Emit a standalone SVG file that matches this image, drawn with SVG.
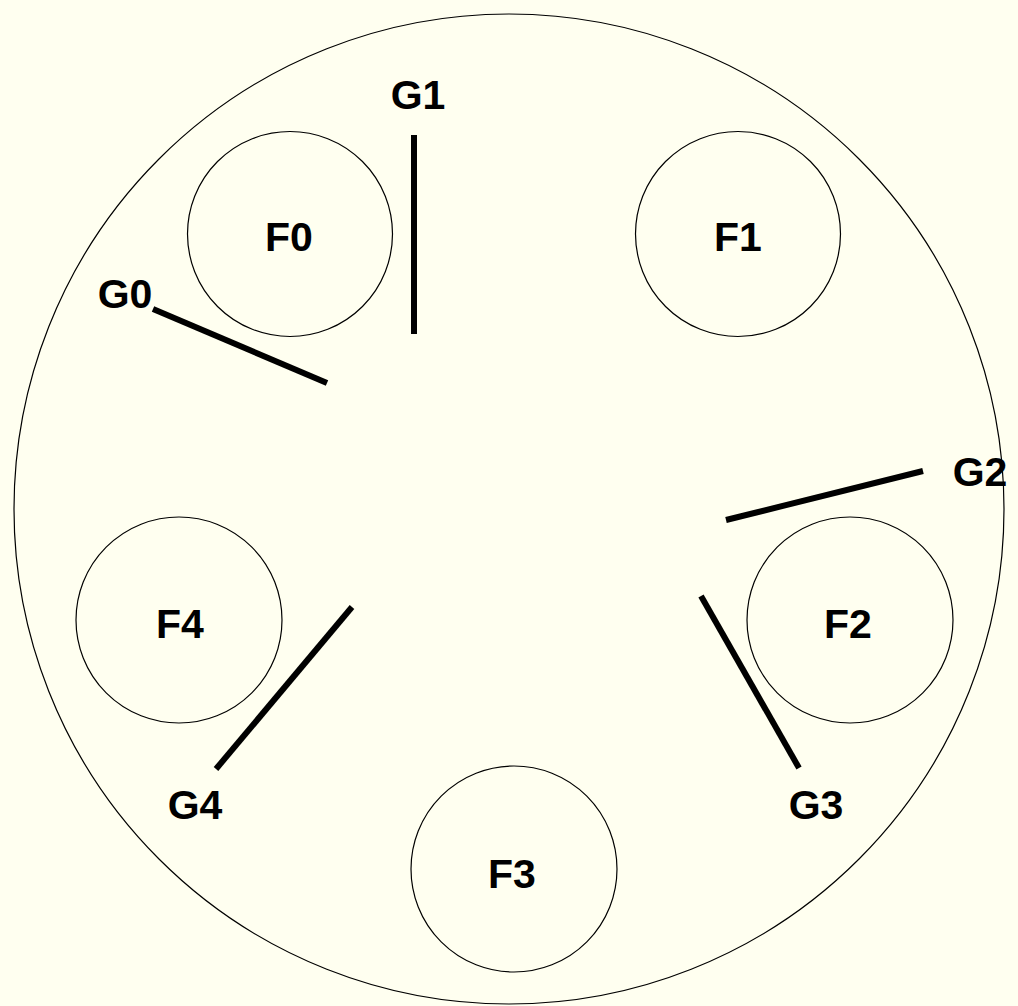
<svg xmlns="http://www.w3.org/2000/svg" width="1018" height="1006" viewBox="0 0 1018 1006">
<style>
.bg{fill:#FFFFF0}
.table{fill:#FFFFF0;stroke:#000;stroke-width:1.2}
.plate{fill:#FFFFF0;stroke:#000;stroke-width:1.2}
.fork{stroke:#000;stroke-width:6;fill:none}
.lbl{font-family:"Liberation Sans",Arial,sans-serif;font-weight:bold;font-size:41px;fill:#000;text-anchor:middle}
</style>
<rect class="bg" x="0" y="0" width="1018" height="1006"/>
<circle class="table" cx="509" cy="509" r="495"/>
<g id="F0"><circle class="plate" cx="290" cy="234" r="102.5"/><text class="lbl" x="289" y="251">F0</text></g>
<g id="F1"><circle class="plate" cx="738" cy="234" r="102.5"/><text class="lbl" x="738" y="251">F1</text></g>
<g id="F2"><circle class="plate" cx="850" cy="620" r="103"/><text class="lbl" x="848" y="638">F2</text></g>
<g id="F3"><circle class="plate" cx="514" cy="869" r="103"/><text class="lbl" x="512" y="888">F3</text></g>
<g id="F4"><circle class="plate" cx="179" cy="620" r="103"/><text class="lbl" x="180" y="638">F4</text></g>
<g id="connectors">
<line class="fork" x1="153" y1="309" x2="327" y2="383"/>
<line class="fork" x1="414" y1="135" x2="414" y2="334"/>
<line class="fork" x1="726" y1="520" x2="923" y2="471"/>
<line class="fork" x1="701" y1="596" x2="799" y2="768"/>
<line class="fork" x1="352" y1="607" x2="216" y2="769"/>
</g>
<g id="G0"><text class="lbl" x="125" y="308">G0</text></g>
<g id="G1"><text class="lbl" x="418" y="109">G1</text></g>
<g id="G2"><text class="lbl" x="980" y="486">G2</text></g>
<g id="G3"><text class="lbl" x="816" y="819">G3</text></g>
<g id="G4"><text class="lbl" x="195" y="819">G4</text></g>
</svg>
